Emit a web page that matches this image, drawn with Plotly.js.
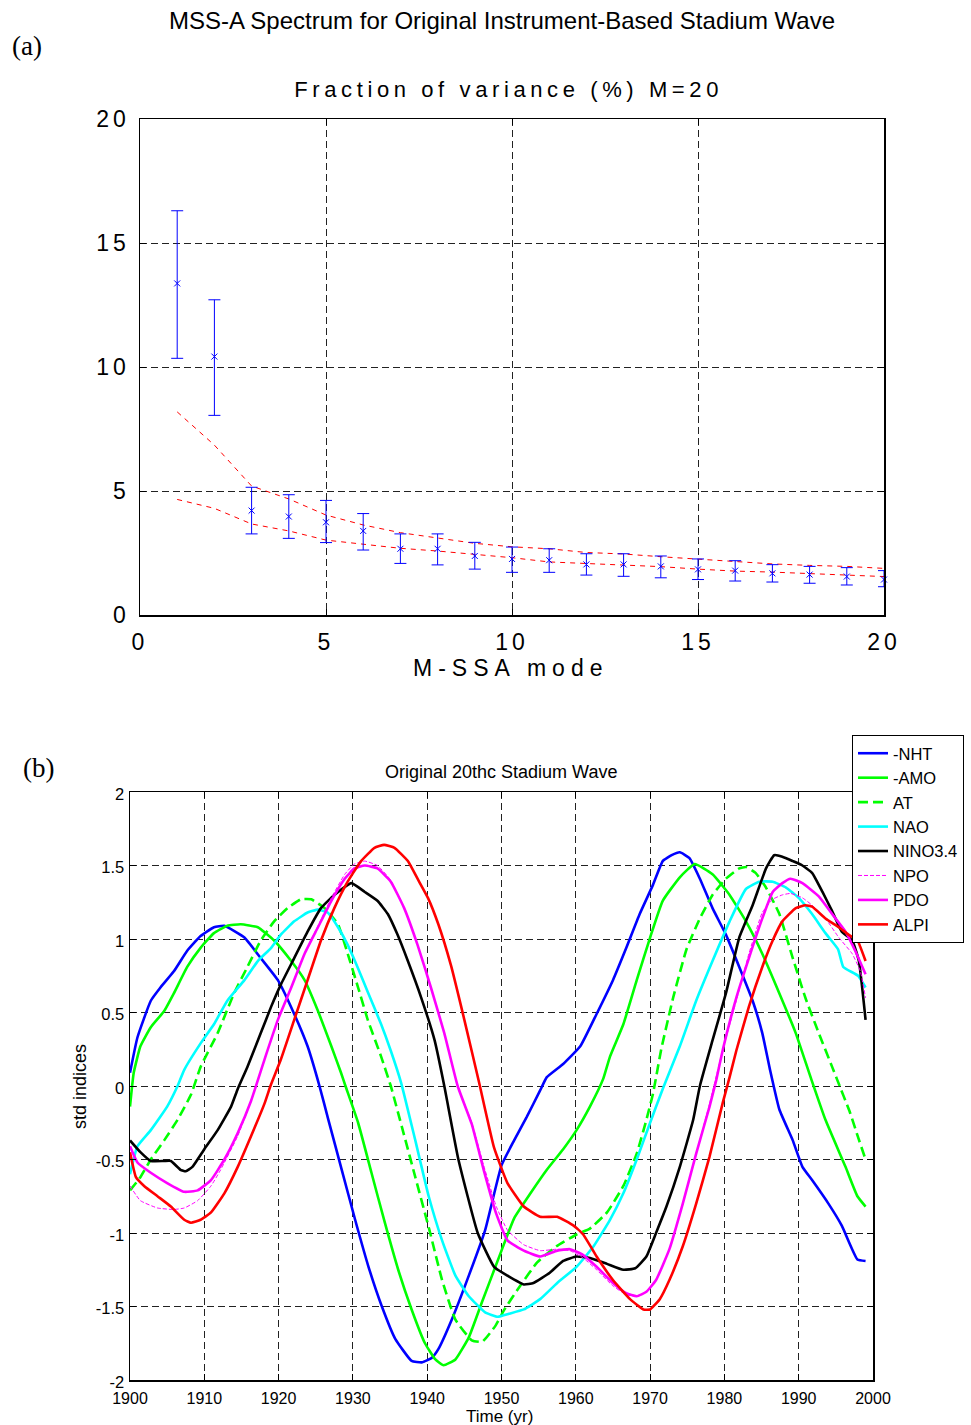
<!DOCTYPE html>
<html>
<head>
<meta charset="utf-8">
<script src="https://cdn.plot.ly/plotly-3.0.1.min.js"></script>
<style>
html,body{margin:0;padding:0;background:#fff;}
#chart{width:971px;height:1425px;}
.xtick text,.ytick text{letter-spacing:4px;}
.annotation[data-index="2"] text{letter-spacing:4.6px;}
.annotation[data-index="3"] text{letter-spacing:6px;}
</style>
</head>
<body>
<div id="chart"></div>
<script>
// ---------- Panel (a): M-SSA spectrum ----------
const modes = [1,2,3,4,5,6,7,8,9,10,11,12,13,14,15,16,17,18,19,20];
const variance = [13.37,10.42,4.21,3.97,3.74,3.39,2.67,2.67,2.38,2.26,2.21,2.04,2.04,1.96,1.84,1.79,1.68,1.63,1.55,1.43];
const varHigh = [16.3,12.71,5.15,4.85,4.62,4.09,3.27,3.27,2.93,2.74,2.67,2.47,2.47,2.38,2.26,2.19,2.03,1.96,1.91,1.79];
const varLow = [10.35,8.05,3.27,3.09,2.92,2.62,2.08,2.02,1.85,1.72,1.72,1.61,1.56,1.5,1.43,1.37,1.33,1.28,1.21,1.14];
const nullUpper = [8.19,6.85,5.2,4.68,4.03,3.63,3.32,3.1,2.89,2.75,2.67,2.52,2.46,2.35,2.25,2.14,2.06,2.0,1.96,1.88];
const nullLower = [4.66,4.3,3.67,3.39,3.02,2.85,2.69,2.58,2.45,2.31,2.14,2.08,2.0,1.95,1.85,1.77,1.73,1.68,1.61,1.55];
const aTicks = [0, 5, 10, 15, 20];
const aTickText = ['0', '5', '10', '15', '20'];

// ---------- Panel (b): stadium wave indices ----------
const nhtYears = [1900,1901,1902.8,1904.1,1905.9,1907.7,1909.5,1911.3,1912.7,1915.4,1917.6,1919.9,1922.1,1923.9,1925.5,1926.7,1928.5,1930.3,1932.1,1933.9,1935.7,1937.9,1939.3,1940.6,1941.5,1943.3,1945.6,1947.8,1950,1951.7,1953.4,1955.2,1956.1,1958.3,1960.6,1962.8,1965,1966.8,1968.6,1970.4,1971.7,1972.9,1974,1975.3,1976.7,1978.4,1980.2,1982,1983.8,1985.1,1986.1,1987.4,1989.2,1990.5,1991.8,1994,1995.8,1997.9,1999];
const nhtVals = [0.09,0.33,0.58,0.67,0.78,0.92,1.02,1.08,1.09,1.01,0.87,0.72,0.49,0.27,0.0,-0.23,-0.57,-0.91,-1.23,-1.50,-1.72,-1.87,-1.88,-1.85,-1.79,-1.59,-1.29,-0.98,-0.54,-0.37,-0.21,-0.03,0.06,0.15,0.27,0.49,0.72,0.94,1.17,1.37,1.53,1.57,1.59,1.55,1.41,1.21,1.03,0.81,0.58,0.36,0.12,-0.16,-0.37,-0.55,-0.64,-0.80,-0.95,-1.18,-1.19];

const amoYears = [1900,1900.5,1901.4,1902.8,1904.6,1905.9,1907.7,1909.5,1911.3,1913.1,1914.9,1917.2,1919.4,1921.7,1923.5,1925.3,1927.1,1928.4,1929,1930.7,1932.5,1934.3,1936.1,1937.9,1939.7,1941.1,1942.2,1943.8,1945.6,1947.3,1950,1951.7,1953.9,1956.1,1958.3,1960.1,1961.9,1963.7,1964.6,1966.4,1968.2,1970,1971.7,1974,1976,1978.4,1980.7,1982.9,1985.1,1987.4,1989.6,1991.6,1993.6,1996.3,1997.9,1999];
const amoVals = [-0.14,0.09,0.27,0.40,0.51,0.63,0.81,0.94,1.04,1.09,1.10,1.08,0.99,0.85,0.72,0.51,0.27,0.09,0.0,-0.25,-0.59,-0.93,-1.25,-1.52,-1.75,-1.86,-1.90,-1.86,-1.71,-1.48,-1.12,-0.90,-0.73,-0.57,-0.43,-0.30,-0.14,0.05,0.20,0.42,0.72,1.01,1.26,1.42,1.51,1.44,1.30,1.12,0.90,0.63,0.36,0.06,-0.23,-0.55,-0.75,-0.82];

const atYears = [1900,1901.4,1902.8,1904.6,1906.4,1908.2,1909.5,1911.8,1914,1915.8,1917.6,1919.4,1921.2,1923,1924.4,1926.2,1928,1929.3,1930.7,1932,1933.8,1935.1,1936.6,1938.4,1940.3,1942,1943.8,1946,1947.4,1949.2,1950.4,1952.5,1954.8,1957.4,1960.1,1961.9,1964.2,1966.4,1968.2,1969.5,1970.4,1971.5,1973.1,1974.9,1976.7,1978.4,1980.2,1982,1982.9,1984.2,1985.6,1987.4,1989.2,1990.9,1992.7,1994.5,1995.2,1996.9,1998,1999];
const atVals = [-0.71,-0.62,-0.50,-0.37,-0.23,-0.06,0.13,0.36,0.63,0.81,0.99,1.12,1.21,1.27,1.27,1.21,1.10,0.90,0.67,0.45,0.20,0.0,-0.28,-0.62,-0.98,-1.32,-1.59,-1.73,-1.74,-1.63,-1.52,-1.36,-1.20,-1.09,-1.01,-0.97,-0.86,-0.68,-0.46,-0.23,-0.05,0.25,0.60,0.93,1.14,1.30,1.41,1.48,1.49,1.45,1.35,1.17,0.87,0.60,0.36,0.13,0.04,-0.18,-0.35,-0.50];

const naoYears = [1900,1901,1902.8,1905,1906.4,1907.3,1909.5,1911.3,1913.1,1915.4,1917.2,1919,1920.3,1922.1,1923.9,1925.3,1926.6,1928,1929.3,1930.7,1932,1933.8,1935.1,1936.5,1938.4,1940.2,1942,1943.8,1945.6,1947.8,1949.5,1951,1953,1955.2,1957.5,1960.1,1962.4,1964.6,1966.4,1968.2,1970,1971.7,1974,1976.2,1978.4,1980.7,1982.9,1984.7,1986.5,1988.3,1990,1991.8,1993.6,1995.3,1996,1998,1999];
const naoVals = [-0.60,-0.41,-0.30,-0.14,0.0,0.11,0.29,0.42,0.58,0.72,0.85,0.94,1.03,1.12,1.18,1.20,1.18,1.08,0.96,0.80,0.64,0.42,0.24,0.02,-0.37,-0.75,-1.05,-1.29,-1.43,-1.54,-1.57,-1.55,-1.52,-1.45,-1.34,-1.23,-1.09,-0.91,-0.73,-0.50,-0.25,-0.02,0.27,0.58,0.85,1.12,1.34,1.39,1.39,1.35,1.28,1.17,1.04,0.93,0.81,0.75,0.67];

const ninoYears = [1900,1901.4,1902.8,1904.6,1905.5,1906.8,1907.5,1908.4,1910,1911.8,1913.6,1914.5,1915.8,1917.6,1919,1920.3,1922.1,1923.9,1925.7,1927.5,1929.8,1931.6,1933.3,1934.7,1936,1937.4,1939.2,1941,1942.3,1944.2,1946.8,1949,1950.8,1953,1954.3,1956.5,1958.3,1960.1,1961.9,1964.2,1966.4,1968,1969.5,1970.8,1972.2,1974,1975.8,1976.7,1978.4,1980.2,1982,1983.8,1985.6,1986.7,1987.8,1989.2,1990.5,1991.8,1993.2,1994.5,1995.8,1997.2,1998.1,1999];
const ninoVals = [-0.37,-0.45,-0.51,-0.51,-0.51,-0.57,-0.58,-0.55,-0.43,-0.30,-0.14,-0.02,0.13,0.36,0.54,0.69,0.87,1.05,1.21,1.30,1.38,1.32,1.26,1.17,1.03,0.85,0.60,0.31,0.0,-0.5,-1.0,-1.23,-1.29,-1.35,-1.34,-1.27,-1.19,-1.16,-1.17,-1.21,-1.25,-1.24,-1.16,-1.0,-0.82,-0.55,-0.23,0.0,0.31,0.63,1.01,1.23,1.48,1.57,1.56,1.53,1.50,1.45,1.32,1.19,1.05,0.99,0.85,0.45];

const npoYears = [1900,1901.4,1903.7,1905.9,1907.3,1909.1,1910.9,1912.2,1914.5,1916.3,1918.1,1919.9,1921.7,1923.5,1925.3,1927.1,1928.9,1930.2,1931.6,1933.3,1935.1,1936.9,1938.7,1940.5,1942.3,1944.1,1946,1947.6,1949.3,1950.8,1953,1955.2,1957.5,1959.2,1961,1962.8,1965,1966.8,1968.2,1969.5,1970.8,1972.6,1974.4,1976.2,1978,1979.8,1981.6,1983.3,1985.1,1986.5,1987.8,1988.9,1990.5,1991.8,1993.6,1995.4,1997.2,1998.3,1999];
const npoVals = [-0.68,-0.78,-0.83,-0.84,-0.83,-0.78,-0.68,-0.57,-0.34,-0.10,0.18,0.45,0.67,0.90,1.09,1.28,1.44,1.51,1.53,1.50,1.40,1.21,0.96,0.67,0.36,0.0,-0.25,-0.54,-0.82,-0.98,-1.08,-1.12,-1.11,-1.12,-1.17,-1.25,-1.36,-1.42,-1.43,-1.40,-1.32,-1.11,-0.80,-0.46,-0.12,0.25,0.58,0.90,1.18,1.27,1.30,1.31,1.28,1.23,1.14,1.01,0.90,0.78,0.60];

const pdoYears = [1900,1901,1902.8,1905,1907.3,1909.1,1910.9,1912.7,1914.5,1916.3,1918.1,1919.9,1921.7,1923.5,1925.3,1927.1,1928.9,1930.2,1931.6,1933.3,1935.1,1936.9,1938.7,1940.5,1942.3,1944.1,1946,1947.6,1949.3,1950.8,1953,1955.2,1957.5,1959.2,1961,1962.8,1965,1966.8,1968.2,1969.5,1970.8,1972.6,1974.4,1976.2,1978,1978.9,1979.8,1981.6,1983.3,1985.1,1986.5,1987.8,1988.9,1990.5,1992.7,1994.5,1996.3,1997.6,1999];
const pdoVals = [-0.41,-0.52,-0.59,-0.66,-0.72,-0.71,-0.64,-0.50,-0.32,-0.10,0.18,0.45,0.67,0.90,1.08,1.26,1.41,1.48,1.50,1.48,1.39,1.21,0.96,0.67,0.36,0.0,-0.26,-0.57,-0.87,-1.05,-1.12,-1.16,-1.12,-1.11,-1.15,-1.23,-1.34,-1.41,-1.43,-1.40,-1.32,-1.11,-0.80,-0.46,-0.14,0.04,0.25,0.60,0.87,1.14,1.32,1.38,1.41,1.38,1.29,1.17,1.05,0.92,0.76];

const alpiYears = [1900,1900.8,1901.9,1903.7,1905.5,1907.3,1908.2,1909.5,1910.9,1912.7,1914.5,1916.3,1918.1,1918.9,1920.3,1922.1,1923.9,1925.7,1927.5,1929.3,1931.1,1932.9,1934.2,1935.6,1937.4,1938.7,1940.1,1941.5,1943.2,1945,1947,1949,1950.8,1953,1955.2,1957.5,1959.7,1961,1962.8,1965,1967.3,1969.1,1970,1971.3,1972.6,1974.4,1976.2,1978,1979.8,1980.7,1981.6,1983.3,1985.1,1986.5,1987.8,1989.6,1990.9,1991.8,1993.6,1995.4,1996.7,1997.9,1999];
const alpiVals = [-0.45,-0.62,-0.68,-0.75,-0.82,-0.91,-0.93,-0.91,-0.86,-0.73,-0.55,-0.34,-0.12,0.0,0.18,0.45,0.72,0.99,1.21,1.39,1.53,1.62,1.64,1.62,1.53,1.41,1.28,1.10,0.82,0.45,0.02,-0.42,-0.66,-0.82,-0.89,-0.89,-0.95,-1.01,-1.16,-1.32,-1.45,-1.52,-1.52,-1.45,-1.32,-1.09,-0.80,-0.48,-0.11,0.06,0.24,0.54,0.81,0.99,1.12,1.21,1.23,1.22,1.14,1.08,1.03,0.99,0.85];

const seriesNames = ['-NHT','-AMO','AT','NAO','NINO3.4','NPO','PDO','ALPI'];
const seriesColors = ['#0000ff','#00ff00','#00ff00','#00ffff','#000000','#ff00ff','#ff00ff','#ff0000'];
const bXTicks = [1900,1910,1920,1930,1940,1950,1960,1970,1980,1990,2000];
const bYTicks = [-2,-1.5,-1,-0.5,0,0.5,1,1.5,2];
const bYTickText = ['-2','-1.5','-1','-0.5','0','0.5','1','1.5','2'];

const W = 971, H = 1425;
const px = x => x / W;
const py = y => 1 - y / H;
const FONT = 'Liberation Sans, Arial, Helvetica, sans-serif';
const SERIF = 'Liberation Serif, Times New Roman, serif';

const traces = [];
// Panel (a)
traces.push({
  x: modes, y: nullUpper, type: 'scatter', mode: 'lines', xaxis: 'x', yaxis: 'y',
  line: {color: '#ff0000', width: 1, dash: '5px,5px'}, showlegend: false, hoverinfo: 'skip'
});
traces.push({
  x: modes, y: nullLower, type: 'scatter', mode: 'lines', xaxis: 'x', yaxis: 'y',
  line: {color: '#ff0000', width: 1, dash: '5px,5px'}, showlegend: false, hoverinfo: 'skip'
});
traces.push({
  x: modes, y: variance, type: 'scatter', mode: 'markers', xaxis: 'x', yaxis: 'y',
  marker: {symbol: 'x-thin-open', size: 6, color: '#0000ff', line: {color: '#0000ff', width: 1}},
  error_y: {type: 'data', symmetric: false,
    array: varHigh.map((v, i) => v - variance[i]),
    arrayminus: variance.map((v, i) => v - varLow[i]),
    color: '#0000ff', thickness: 1, width: 6},
  cliponaxis: false, showlegend: false
});

// Panel (b)
const bData = [
  [nhtYears, nhtVals], [amoYears, amoVals], [atYears, atVals], [naoYears, naoVals],
  [ninoYears, ninoVals], [npoYears, npoVals], [pdoYears, pdoVals], [alpiYears, alpiVals]
];
bData.forEach((d, i) => {
  const name = seriesNames[i];
  let line = {color: seriesColors[i], width: 2.6, shape: 'spline', smoothing: 0.4};
  if (name === 'AT') line.dash = '10px,5px';
  if (name === 'NPO') { line.width = 1; line.dash = '4px,2px'; }
  traces.push({
    x: d[0], y: d[1], type: 'scatter', mode: 'lines', name: name,
    xaxis: 'x2', yaxis: 'y2', line: line
  });
});

const gridStyle = {showgrid: true, gridcolor: '#222', gridwidth: 1, griddash: '7px,4px'};
const axisCommon = Object.assign({
  showline: true, linecolor: '#000', linewidth: 1.5, mirror: 'ticks',
  ticks: 'inside', ticklen: 6, tickcolor: '#000', zeroline: false
}, gridStyle);

const layout = {
  width: W, height: H,
  margin: {l: 0, r: 0, t: 0, b: 0},
  paper_bgcolor: '#fff', plot_bgcolor: '#fff',
  font: {family: FONT, color: '#000'},
  showlegend: true,
  legend: {
    x: px(852), y: py(735), xanchor: 'left', yanchor: 'top',
    bgcolor: '#fff', bordercolor: '#000', borderwidth: 1,
    font: {family: FONT, size: 16.5, color: '#000'},
    tracegroupgap: 0, itemwidth: 30
  },
  xaxis: Object.assign({}, axisCommon, {
    domain: [px(140), px(884)], anchor: 'y', range: [0, 20],
    tickvals: aTicks, ticktext: aTickText,
    tickfont: {family: FONT, size: 23, color: '#000'}, ticklabelstandoff: 6
  }),
  yaxis: Object.assign({}, axisCommon, {
    domain: [py(615), py(119)], anchor: 'x', range: [0, 20],
    tickvals: aTicks, ticktext: aTickText,
    tickfont: {family: FONT, size: 23, color: '#000'}, ticklabelstandoff: 4
  }),
  xaxis2: Object.assign({}, axisCommon, {
    domain: [px(130), px(873)], anchor: 'y2', range: [1900, 2000],
    tickvals: bXTicks, ticktext: bXTicks.map(String),
    tickfont: {family: FONT, size: 16, color: '#000'}, ticklabelstandoff: 3
  }),
  yaxis2: Object.assign({}, axisCommon, {
    domain: [py(1380), py(792)], anchor: 'x2', range: [-2, 2],
    tickvals: bYTicks, ticktext: bYTickText,
    tickfont: {family: FONT, size: 16.5, color: '#000'}, ticklabelstandoff: 1, ticklabelshift: 2
  }),
  annotations: [
    {text: 'MSS-A Spectrum for Original Instrument-Based Stadium Wave', x: px(502), y: py(20),
     xref: 'paper', yref: 'paper', xanchor: 'center', yanchor: 'middle', showarrow: false,
     font: {family: FONT, size: 24, color: '#000'}},
    {text: '(a)', x: px(27), y: py(46), xref: 'paper', yref: 'paper', xanchor: 'center', yanchor: 'middle',
     showarrow: false, font: {family: SERIF, size: 27, color: '#000'}},
    {text: 'Fraction of variance (%) M=20', x: px(509), y: py(89), xref: 'paper', yref: 'paper',
     xanchor: 'center', yanchor: 'middle', showarrow: false, font: {family: FONT, size: 22, color: '#000'}},
    {text: 'M-SSA mode', x: px(511), y: py(668), xref: 'paper', yref: 'paper',
     xanchor: 'center', yanchor: 'middle', showarrow: false, font: {family: FONT, size: 23, color: '#000'}},
    {text: '(b)', x: px(38), y: py(768), xref: 'paper', yref: 'paper', xanchor: 'center', yanchor: 'middle',
     showarrow: false, font: {family: SERIF, size: 27, color: '#000'}},
    {text: 'Original 20thc Stadium Wave', x: px(501), y: py(772), xref: 'paper', yref: 'paper',
     xanchor: 'center', yanchor: 'middle', showarrow: false, font: {family: FONT, size: 18, color: '#000'}},
    {text: 'std indices', x: px(80), y: py(1087), xref: 'paper', yref: 'paper', textangle: -90,
     xanchor: 'center', yanchor: 'middle', showarrow: false, font: {family: FONT, size: 18, color: '#000'}},
    {text: 'Time (yr)', x: px(499), y: py(1416), xref: 'paper', yref: 'paper',
     xanchor: 'center', yanchor: 'middle', showarrow: false, font: {family: FONT, size: 17, color: '#000'}}
  ]
};

Plotly.newPlot('chart', traces, layout, {staticPlot: true, displayModeBar: false});
</script>
</body>
</html>
